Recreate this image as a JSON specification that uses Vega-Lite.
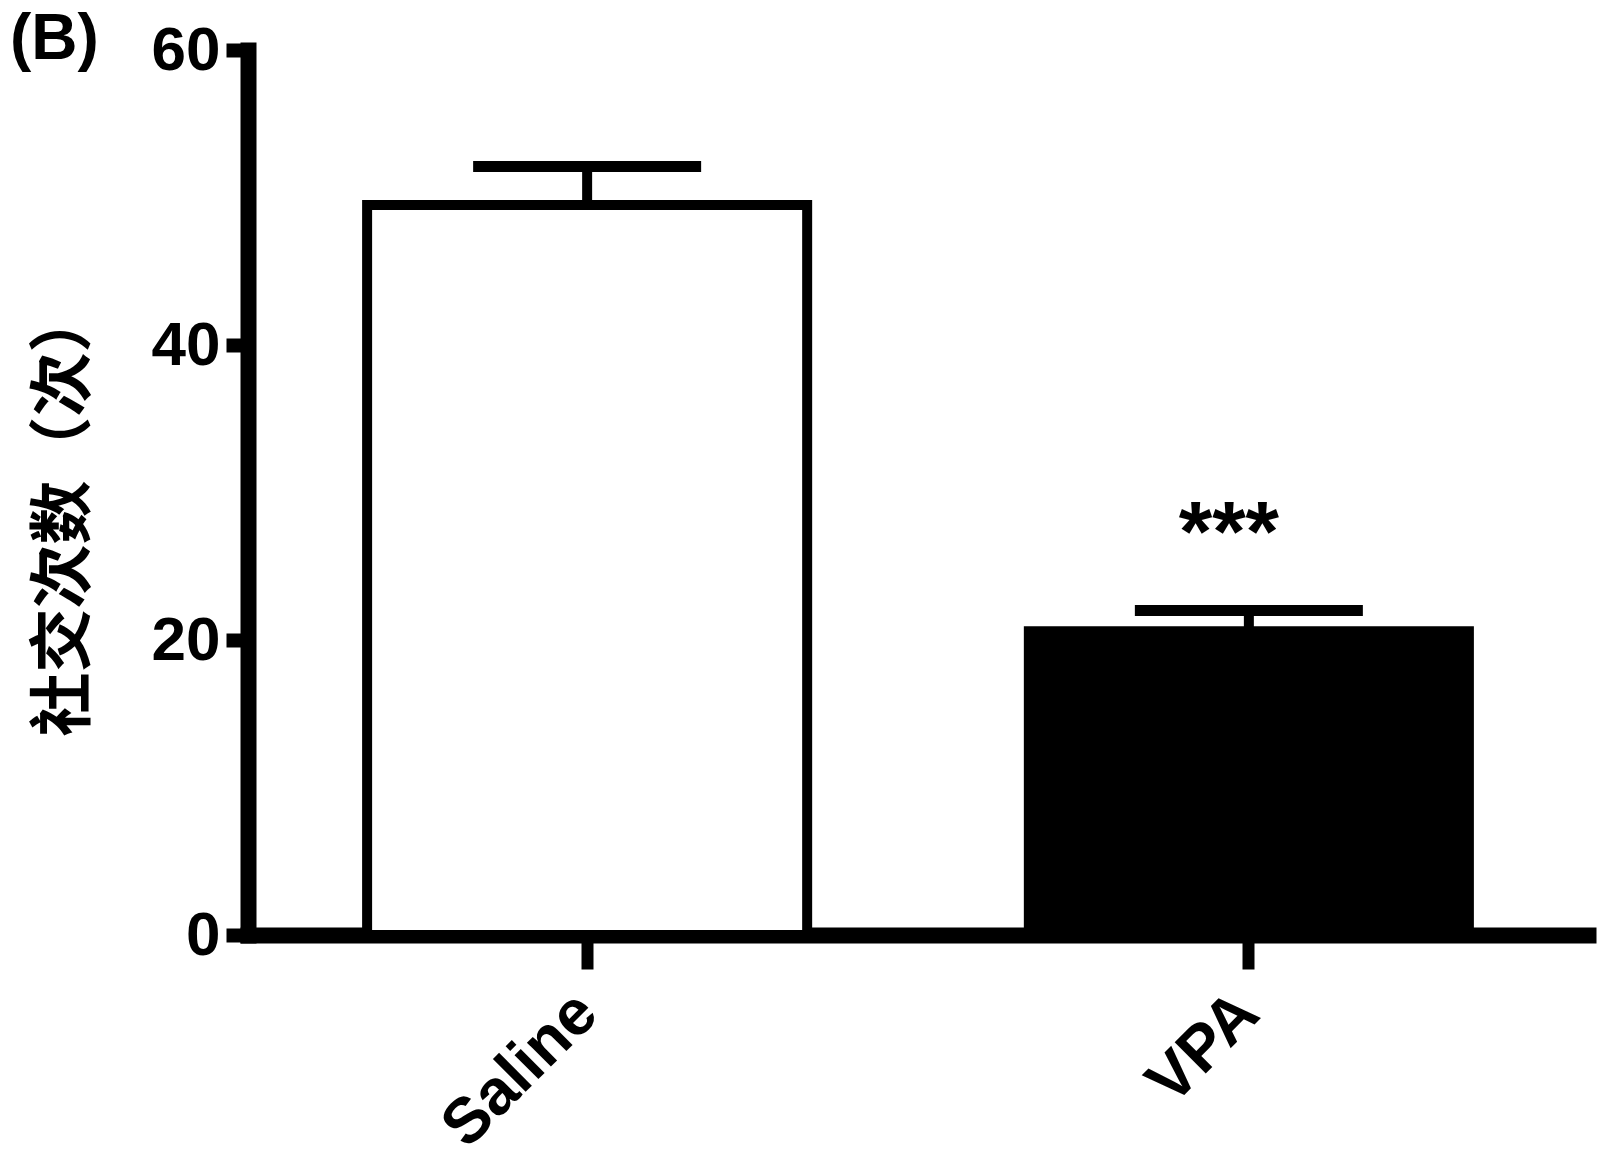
{
  "$schema": "https://vega.github.io/schema/vega-lite/v6.json",
  "width": 1340,
  "height": 885,
  "autosize": {"type": "none"},
  "padding": {"left": 248, "top": 50, "right": 12, "bottom": 232},
  "background": "white",
  "title": {
    "text": "(B)",
    "anchor": "start",
    "frame": "group",
    "font": "Liberation Sans",
    "fontSize": 64,
    "fontWeight": "bold",
    "color": "black",
    "dx": -238,
    "offset": 0,
    "baseline": "alphabetic",
    "dy": 104
  },
  "data": {
    "values": [
      {"group": "Saline", "mean": 49.5, "upper": 52.1, "sig": ""},
      {"group": "VPA", "mean": 20.6, "upper": 22.0, "sig": "***"}
    ]
  },
  "encoding": {
    "x": {
      "field": "group",
      "type": "nominal",
      "sort": null,
      "scale": {"paddingInner": 0.335, "paddingOuter": 0.18},
      "axis": {
        "title": null,
        "labelAngle": -45,
        "labelAlign": "right",
        "labelBaseline": "middle",
        "labelFont": "Liberation Sans",
        "labelFontSize": 64,
        "labelFontWeight": "bold",
        "labelColor": "black",
        "labelPadding": 34,
        "labelLimit": 1000,
        "tickSize": 34,
        "tickWidth": 12,
        "tickColor": "black",
        "domainWidth": 16,
        "domainColor": "black",
        "domainCap": "square",
        "grid": false
      }
    }
  },
  "layer": [
    {
      "mark": {"type": "bar", "stroke": "black", "strokeWidth": 10},
      "encoding": {
        "y": {
          "field": "mean",
          "type": "quantitative",
          "scale": {"domain": [0, 60], "nice": false},
          "axis": {
            "values": [0, 20, 40, 60],
            "title": "社交次数（次）",
            "titleFont": "Noto Sans CJK SC",
            "titleFontSize": 64,
            "titleFontWeight": "bold",
            "titleColor": "black",
            "titleX": -184,
            "titleY": 462,
            "titleAngle": -90,
            "titleAlign": "center",
            "titleBaseline": "middle",
            "labelFont": "Liberation Sans",
            "labelFontSize": 62,
            "labelFontWeight": "bold",
            "labelColor": "black",
            "labelPadding": 6,
            "tickSize": 22,
            "tickWidth": 14,
            "tickColor": "black",
            "domainWidth": 16,
            "domainColor": "black",
            "domainCap": "square",
            "grid": false
          }
        },
        "color": {
          "field": "group",
          "type": "nominal",
          "scale": {"domain": ["Saline", "VPA"], "range": ["white", "black"]},
          "legend": null
        }
      }
    },
    {
      "mark": {"type": "rule", "color": "black", "strokeWidth": 10},
      "encoding": {
        "y": {"field": "mean", "type": "quantitative"},
        "y2": {"field": "upper"}
      }
    },
    {
      "mark": {"type": "tick", "color": "black", "size": 228, "thickness": 11, "opacity": 1},
      "encoding": {
        "y": {"field": "upper", "type": "quantitative"}
      }
    },
    {
      "mark": {"type": "text", "color": "black", "font": "Liberation Sans", "fontSize": 86, "fontWeight": "bold", "baseline": "alphabetic", "dy": -50, "dx": -20},
      "encoding": {
        "y": {"field": "upper", "type": "quantitative"},
        "text": {"field": "sig"}
      }
    }
  ],
  "config": {"view": {"stroke": null}}
}
